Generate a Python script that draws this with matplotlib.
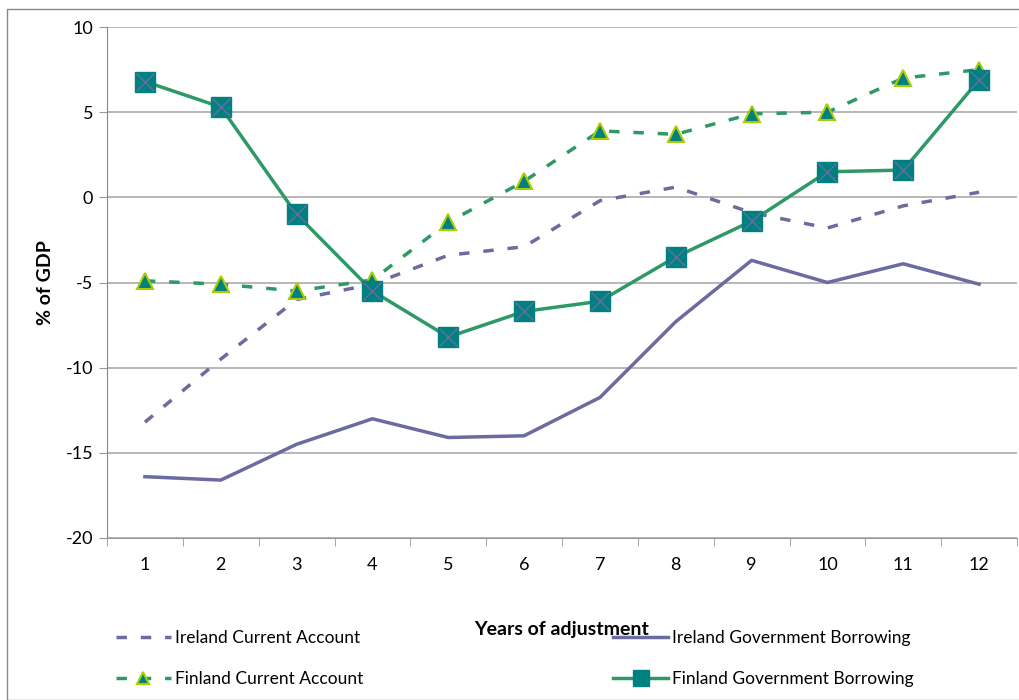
import numpy as np
import matplotlib.pyplot as plt
from matplotlib.patches import Rectangle

plt.rcParams['font.family'] = ['Lato', 'DejaVu Sans']
plt.rcParams['axes.unicode_minus'] = False

years = list(range(1, 13))
ireland_ca = [-13.2, -9.5, -6.0, -5.1, -3.4, -2.9, -0.2, 0.6, -0.9, -1.8, -0.5, 0.3]
ireland_gb = [-16.4, -16.6, -14.5, -13.0, -14.1, -14.0, -11.75, -7.3, -3.7, -5.0, -3.9, -5.1]
finland_ca = [-4.9, -5.1, -5.5, -4.85, -1.46, 0.94, 3.9, 3.7, 4.9, 5.0, 7.0, 7.5]
finland_gb = [6.8, 5.3, -1.0, -5.5, -8.2, -6.7, -6.1, -3.5, -1.4, 1.5, 1.6, 6.9]

purple = '#6B6BA0'
green = '#2E9966'
teal = '#008080'

fig = plt.figure(figsize=(10.19, 7.0), dpi=100)
ax = fig.add_axes([107 / 1019, 1 - 538 / 700, 910 / 1019, (538 - 27) / 700])

# рамка всей диаграммы
fig.patches.append(Rectangle((7 / 1019, 0), 1.1, 1 - 9 / 700, transform=fig.transFigure,
                             fill=False, edgecolor='#888888', linewidth=1))

l1, = ax.plot(years, ireland_ca, color=purple, linewidth=2.5, linestyle=(0, (3, 4)),
              label='Ireland Current Account', zorder=3)
l2, = ax.plot(years, ireland_gb, color=purple, linewidth=2.5,
              label='Ireland Government Borrowing', zorder=3)
l3, = ax.plot(years, finland_ca, color=green, linewidth=2.5, linestyle=(0, (3, 4)),
              marker='^', markersize=11, markerfacecolor=teal, markeredgecolor='#AACC00',
              markeredgewidth=1.5, label='Finland Current Account', zorder=4)
l4, = ax.plot(years, finland_gb, color=green, linewidth=2.5,
              marker='s', markersize=14, markerfacecolor=teal, markeredgecolor=teal,
              label='Finland Government Borrowing', zorder=5)
ax.plot(years, finland_gb, linestyle='none', marker='x', markersize=13,
        markeredgecolor=purple, markeredgewidth=1, zorder=6)

ax.set_xlim(0.5, 12.5)
ax.set_ylim(-20, 10)
ax.set_yticks(np.arange(-20, 11, 5))
ax.set_xticks(years)
ax.set_xticks(np.arange(0.5, 12.6, 1), minor=True)
ax.tick_params(axis='x', which='major', length=0, pad=14, labelsize=13)
ax.tick_params(axis='x', which='minor', length=6, color='#999999')
ax.tick_params(axis='y', length=6, color='#999999', labelsize=13, pad=4)
ax.grid(axis='y', color='#AAAAAA', linewidth=1.2)
ax.set_axisbelow(True)
for s in ['top', 'right']:
    ax.spines[s].set_visible(False)
ax.spines['left'].set_color('#888888')
ax.spines['bottom'].set_color('#999999')

ax.set_ylabel('% of GDP', fontsize=14, fontweight='bold', labelpad=8)
ax.set_xlabel('Years of adjustment', fontsize=14, fontweight='bold', labelpad=34)

# порядок: по столбцам, чтобы Ireland была в первой строке
leg = fig.legend([l1, l3, l2, l4],
                 [l1.get_label(), l3.get_label(), l2.get_label(), l4.get_label()],
                 ncol=2, loc='upper left', bbox_to_anchor=(100 / 1019, 1 - 614 / 700),
                 frameon=False, fontsize=12.5, handlelength=3.2, handletextpad=0.2,
                 columnspacing=14.4, labelspacing=1.45, markerscale=0.8)

plt.savefig('out.png')
